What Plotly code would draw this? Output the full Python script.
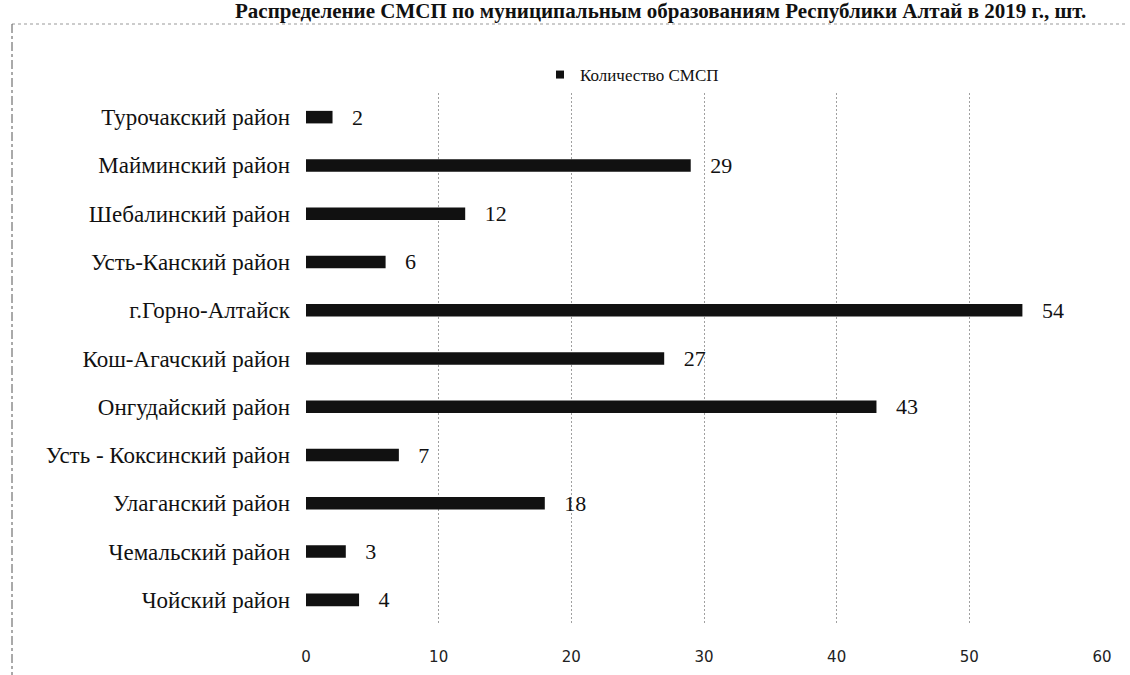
import plotly.graph_objects as go

# Categories listed from top to bottom as in the chart
districts = [
    "Турочакский район",
    "Майминский район",
    "Шебалинский район",
    "Усть-Канский район",
    "г.Горно-Алтайск",
    "Кош-Агачский район",
    "Онгудайский район",
    "Усть - Коксинский район",
    "Улаганский район",
    "Чемальский район",
    "Чойский район",
]
counts = [2, 29, 12, 6, 54, 27, 43, 7, 18, 3, 4]
x_ticks = [0, 10, 20, 30, 40, 50, 60]

series_name = "Количество СМСП"
title_text = "Распределение СМСП по муниципальным образованиям Республики Алтай в 2019 г., шт."

W, H = 1130, 675
L, R, T, B = 306, 28, 93, 51
pw, ph = W - L - R, H - T - B


def px_x(p):
    return (p - L) / pw


def px_y(p):
    return 1 - (p - T) / ph


serif = "Liberation Serif, Times New Roman, serif"

fig = go.Figure()
fig.add_bar(
    y=districts,
    x=counts,
    orientation="h",
    name=series_name,
    showlegend=False,
    marker=dict(color="#111111", line=dict(width=0)),
    width=0.26,
    text=counts,
    texttemplate="   %{x}",
    textposition="outside",
    constraintext="none",
    textfont=dict(family=serif, size=22, color="#111111"),
    cliponaxis=False,
)
# legend entry with a small square marker, like the original
fig.add_scatter(
    x=[None],
    y=[None],
    mode="markers",
    name=series_name,
    marker=dict(symbol="square", size=8, color="#111111"),
)

fig.update_layout(
    width=W,
    height=H,
    margin=dict(l=L, r=R, t=T, b=B),
    paper_bgcolor="white",
    plot_bgcolor="white",
    font=dict(family=serif, size=19, color="#111111"),
    showlegend=True,
    legend=dict(
        orientation="h",
        x=px_x(632),
        xanchor="center",
        y=px_y(75),
        yanchor="middle",
        font=dict(family=serif, size=17, color="#111111"),
        itemwidth=30,
    ),
    xaxis=dict(
        range=[0, 60],
        tickvals=x_ticks,
        showgrid=True,
        gridcolor="#a0a0a0",
        griddash="2px,2px",
        gridwidth=1,
        zeroline=False,
        showline=False,
        ticks="",
        automargin=False,
        ticklabelstandoff=22,
        tickfont=dict(family="DejaVu Sans", size=15, color="#222222"),
    ),
    yaxis=dict(
        categoryorder="array",
        categoryarray=districts[::-1],
        showgrid=False,
        showline=False,
        ticks="",
        automargin=False,
        ticklabelstandoff=15,
        tickfont=dict(family=serif, size=23, color="#111111"),
    ),
    bargap=0.74,
)

# Title of the figure at the top edge of the page
fig.add_annotation(
    text="<b>" + title_text + "</b>",
    xref="paper",
    yref="paper",
    x=px_x(1088),
    xanchor="right",
    y=px_y(11),
    yanchor="middle",
    showarrow=False,
    font=dict(family=serif, size=21, color="#111111"),
)

# Chart frame: dotted top edge and left edge
fig.add_shape(
    type="line", xref="paper", yref="paper",
    x0=px_x(12), x1=px_x(1128), y0=px_y(24), y1=px_y(24),
    line=dict(color="#999999", width=1, dash="dot"),
)
fig.add_shape(
    type="line", xref="paper", yref="paper",
    x0=px_x(12), x1=px_x(12), y0=px_y(24), y1=px_y(675),
    line=dict(color="#555555", width=1, dash="dashdot"),
)

# page body has a default 8px margin; drop it so the figure fills the window
fig.write_html(
    "out.html",
    config={"displayModeBar": False},
    post_script="document.body.style.margin='0';",
)
